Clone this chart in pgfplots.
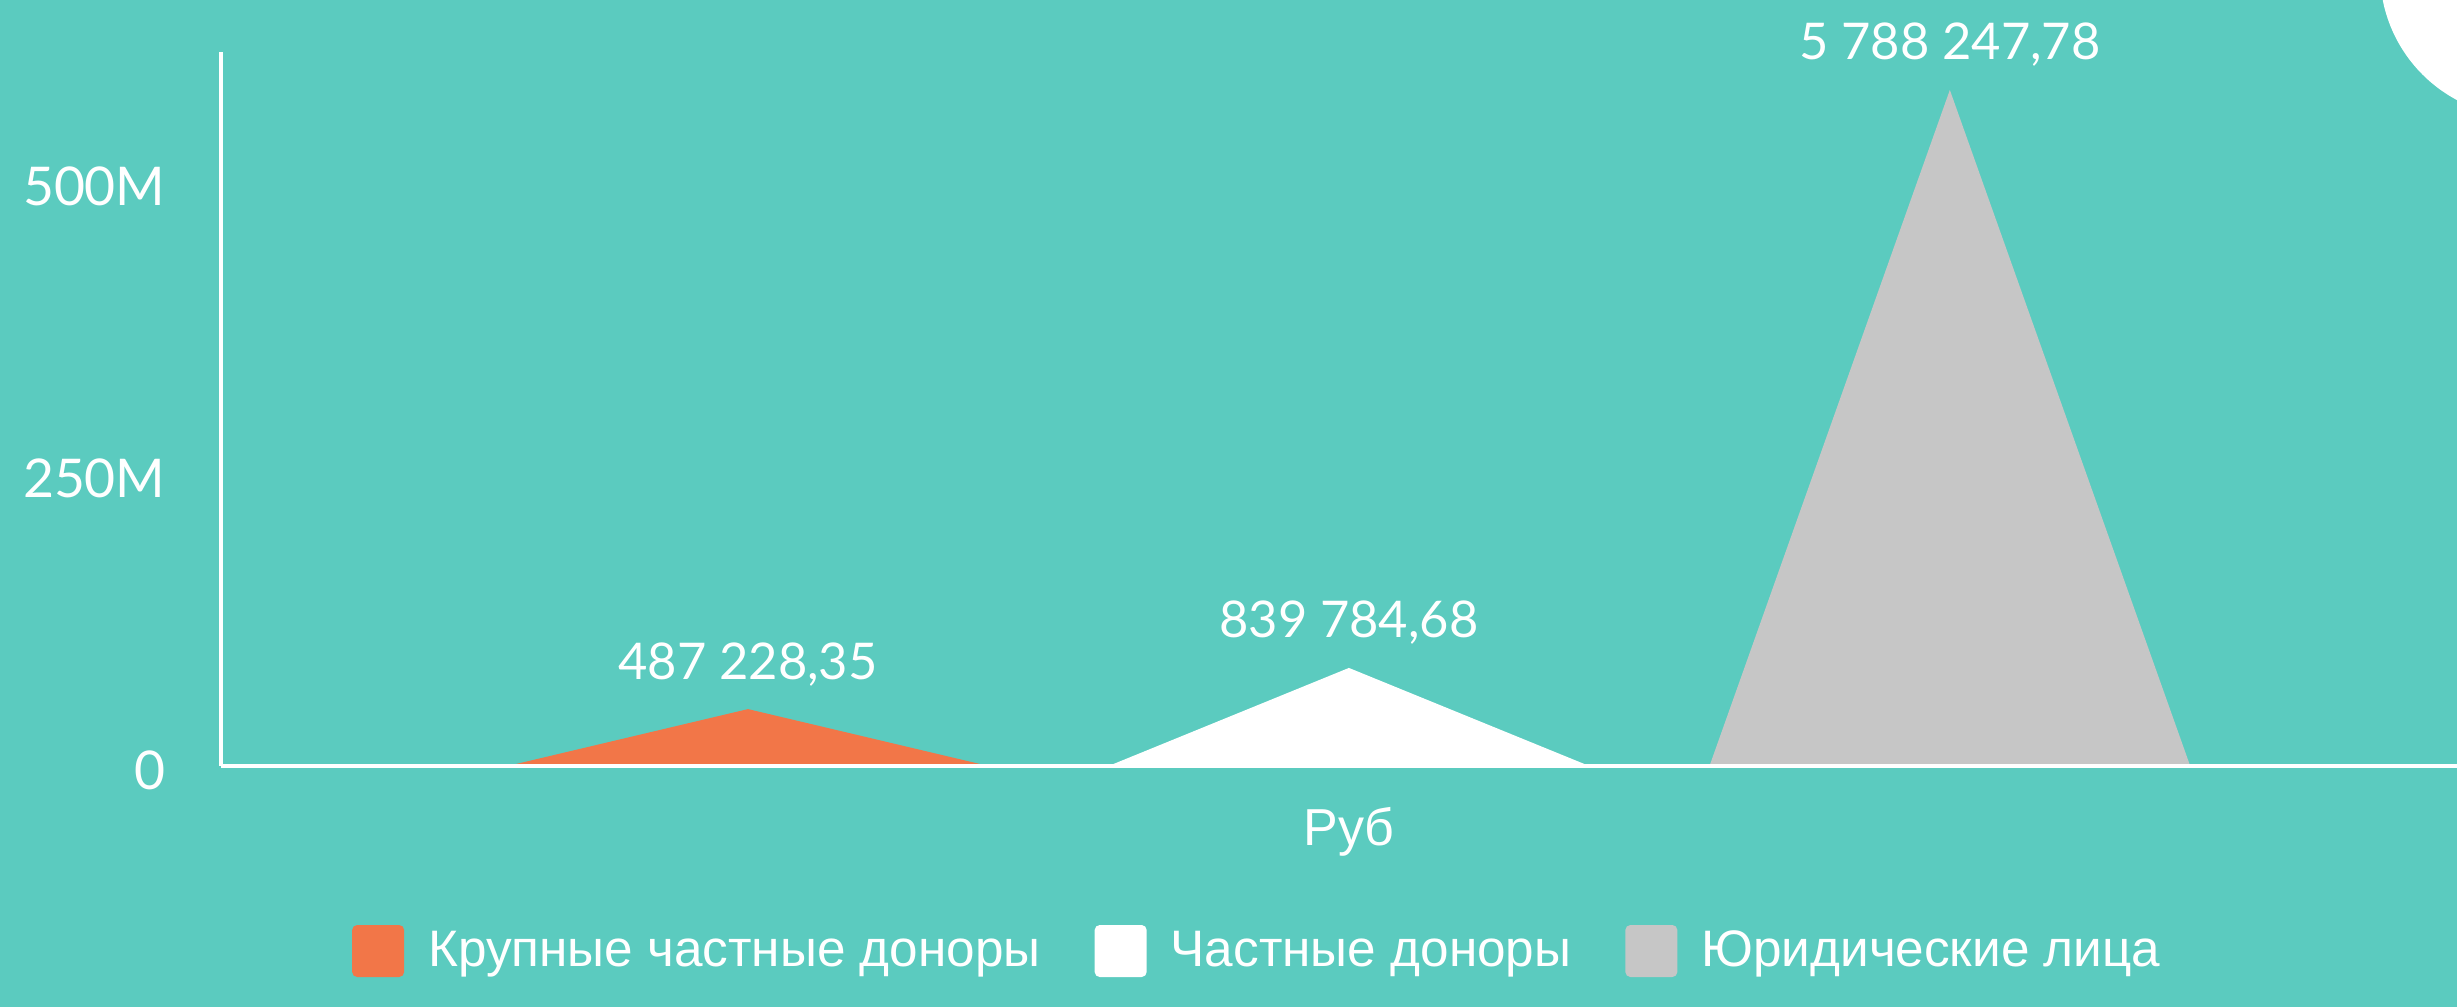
\documentclass[border=0pt]{standalone}
\usepackage{fontspec}
\setmainfont{Liberation Sans}
\newfontfamily\lato{Lato}
\usepackage{pgfplots}
\pgfplotsset{compat=1.18}
\definecolor{bgteal}{RGB}{91,203,191}
\definecolor{corange}{RGB}{242,118,72}
\definecolor{cgray}{RGB}{198,198,198}
\begin{document}
\begin{tikzpicture}
\fill[bgteal] (0,0) rectangle (245.7mm,100.7mm);
\begin{axis}[
  at={(22.1mm,24.1mm)}, anchor=south west,
  scale only axis, width=223.6mm, height=71.4mm,
  xmin=0.123, xmax=3.844, ymin=0, ymax=611.3,
  clip=false,
  axis x line=bottom, axis y line=left,
  axis line style={white, line width=0.38mm, -},
  xtick=\empty,
  ytick={0,250,500}, yticklabels={0,250M,500M},
  major tick length=0pt,
  yticklabel style={font=\lato\fontsize{15.2}{18}\selectfont, text=white, xshift=-4.3mm, yshift=-0.4mm},
  xlabel={Руб},
  xlabel style={font=\fontsize{14.8}{17}\selectfont, text=white,
    at={(axis description cs:0.5045,0)}, anchor=base, yshift=-7.9mm},
  axis on top,
  legend columns=3,
  legend style={at={(axis description cs:0.463,0)}, anchor=center, yshift=-18.5mm,
    draw=none, fill=none, font=\fontsize{14.6}{17}\selectfont, text=white,
    nodes={inner sep=0pt},
    /tikz/every odd column/.append style={column sep=2.4mm},
    /tikz/every even column/.append style={column sep=5.4mm}},
  legend image code/.code={\fill[#1, rounded corners=0.5mm] (0mm,-2.6mm) rectangle (5.2mm,2.6mm);},
]
\addplot[fill=corange, draw=none] coordinates {(0.6,0) (1,48.722835) (1.4,0)} \closedcycle;
\addplot[fill=white, draw=none] coordinates {(1.6,0) (2,83.978468) (2.4,0)} \closedcycle;
\addplot[fill=cgray, draw=none] coordinates {(2.6,0) (3,578.824778) (3.4,0)} \closedcycle;
\addplot[draw=none, mark=none, forget plot, nodes near coords, point meta=explicit symbolic,
  nodes near coords style={font=\lato\fontsize{14.4}{16}\selectfont, text=white, anchor=base, yshift=3.0mm, inner sep=0pt}]
  coordinates {(1,48.722835) [487 228,35] (2,83.978468) [839 784,68] (3,578.824778) [5 788 247,78]};
\legend{Крупные частные доноры, Частные доноры, Юридические лица}
\end{axis}
\fill[white] (252.5mm,103.5mm) circle (14.5mm);
\pgfresetboundingbox
\useasboundingbox (0,0) rectangle (245.7mm,100.7mm);
\end{tikzpicture}
\end{document}
